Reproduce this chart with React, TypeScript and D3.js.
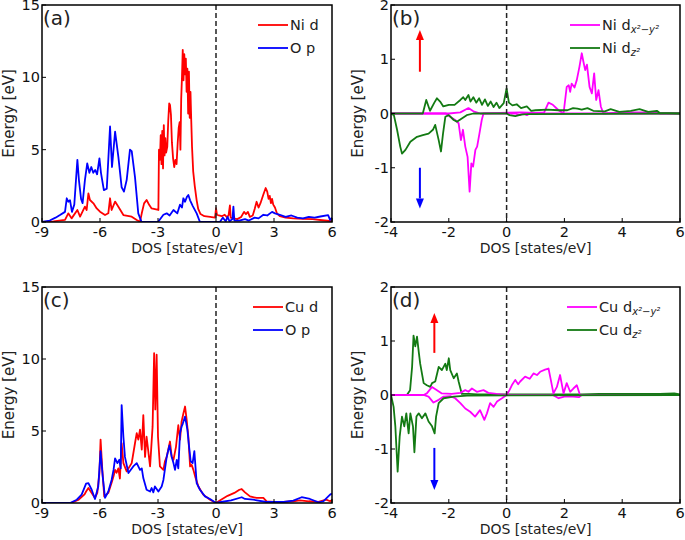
import React from 'react';
import * as d3 from 'd3';

type P = [number, number];

const FONT = "'DejaVu Sans', sans-serif";

// ---------- Panel (a): Ni d / O p ----------
const niD_a: P[] = [
  [-9, 0], [-8.41, 0.05], [-7.81, 0.14], [-7.64, 0.6], [-7.47, 0.25], [-7.17, 0.83], [-7.03, 0.37],
  [-6.78, 1.06], [-6.69, 0.83], [-6.6, 1.98], [-6.52, 1.52], [-6.34, 1.29], [-6.17, 0.94], [-6.0, 0.71],
  [-5.74, 0.48], [-5.57, 0.6], [-5.48, 1.64], [-5.4, 0.83], [-5.22, 1.41], [-5.05, 1.06], [-4.79, 0.48],
  [-4.36, 0.37], [-4.1, 0.14], [-3.93, 0.02], [-3.84, 0.6], [-3.72, 1.29], [-3.59, 1.52], [-3.45, 1.17],
  [-3.33, 0.94], [-2.98, 0.83], [-2.95, 5.0], [-2.9, 4.3], [-2.86, 6.0], [-2.82, 4.0], [-2.78, 6.3],
  [-2.74, 3.7], [-2.7, 6.7], [-2.66, 4.6], [-2.62, 5.8], [-2.58, 4.8], [-2.52, 5.2], [-2.47, 7.0],
  [-2.42, 8.2], [-2.38, 8.1], [-2.33, 7.4], [-2.28, 5.5], [-2.22, 4.4], [-2.16, 3.8], [-2.1, 4.3],
  [-2.04, 4.0], [-1.98, 5.5], [-1.93, 6.5], [-1.88, 6.9], [-1.84, 5.0], [-1.8, 8.5], [-1.76, 10.0],
  [-1.72, 11.9], [-1.68, 9.8], [-1.64, 11.6], [-1.6, 10.2], [-1.56, 11.3], [-1.52, 9.0], [-1.48, 10.6],
  [-1.44, 7.5], [-1.4, 10.4], [-1.36, 7.2], [-1.32, 9.0], [-1.28, 7.0], [-1.24, 5.2], [-1.18, 3.5],
  [-1.1, 2.5], [-1.0, 1.5], [-0.92, 0.9], [-0.8, 0.55], [-0.6, 0.4], [-0.3, 0.35], [-0.05, 0.3],
  [0.0, 0.95], [0.05, 0.5], [0.15, 0.45], [0.3, 0.4], [0.45, 0.5], [0.55, 0.35], [0.65, 0.45],
  [0.72, 1.15], [0.76, 0.3], [0.9, 0.25], [1.1, 0.2], [1.3, 0.35], [1.45, 0.7], [1.55, 0.55],
  [1.65, 0.7], [1.75, 0.35], [1.9, 0.45], [2.0, 0.9], [2.1, 1.4], [2.2, 1.0], [2.3, 1.3], [2.45, 1.9],
  [2.57, 2.35], [2.65, 2.1], [2.72, 1.6], [2.78, 1.8], [2.84, 1.3], [2.9, 1.6], [2.96, 1.2], [3.05, 1.0],
  [3.15, 0.6], [3.3, 0.4], [3.6, 0.3], [4.0, 0.25], [4.5, 0.22], [5.0, 0.2], [5.5, 0.12], [6.0, 0.05],
];

const oP_a: P[] = [
  [-9, 0], [-8.6, 0.1], [-8.3, 0.3], [-8.07, 0.48], [-7.81, 0.7], [-7.72, 1.64], [-7.64, 1.4],
  [-7.55, 1.5], [-7.45, 0.7], [-7.33, 1.2], [-7.17, 4.3], [-7.09, 2.9], [-6.98, 1.6], [-6.9, 1.3],
  [-6.78, 2.9], [-6.66, 4.05], [-6.55, 3.4], [-6.45, 3.8], [-6.35, 3.4], [-6.25, 3.6], [-6.15, 3.3],
  [-6.03, 4.4], [-5.95, 3.4], [-5.8, 2.2], [-5.65, 2.3], [-5.48, 6.6], [-5.38, 3.8], [-5.22, 6.24],
  [-5.05, 4.5], [-4.88, 2.4], [-4.76, 2.1], [-4.62, 2.9], [-4.45, 5.0], [-4.36, 4.9], [-4.19, 3.1],
  [-4.02, 0.6], [-3.85, 0], [-3.0, 0], [-2.72, 0.5], [-2.55, 0.6], [-2.4, 0.45], [-2.2, 0.83],
  [-2.0, 0.6], [-1.86, 1.2], [-1.76, 1.0], [-1.69, 1.64], [-1.6, 1.4], [-1.5, 1.75], [-1.43, 1.87],
  [-1.34, 1.5], [-1.2, 1.1], [-1.0, 0.6], [-0.83, 0], [0.2, 0], [0.35, 0.3], [0.5, 0.05], [0.6, 0.35],
  [0.7, 0.05], [0.85, 0.2], [0.9, 1.06], [0.95, 0.1], [1.2, 0.1], [1.5, 0.2], [1.7, 0.1], [2.0, 0.3],
  [2.2, 0.25], [2.45, 0.5], [2.65, 0.45], [2.9, 0.7], [3.05, 0.6], [3.3, 0.5], [3.6, 0.35], [3.9, 0.45],
  [4.2, 0.3], [4.5, 0.25], [4.8, 0.35], [5.1, 0.3], [5.4, 0.38], [5.8, 0.48], [5.9, 0.15], [6.0, 0.3],
];

// ---------- Panel (b): Ni dx2-y2 / Ni dz2 (spin up +, spin down -) ----------
const niDz2Up_b: P[] = [
  [-4, 0], [-2.9, 0], [-2.78, 0.25], [-2.65, 0.05], [-2.5, 0.2], [-2.41, 0.28], [-2.3, 0.22],
  [-2.19, 0.13], [-2.0, 0.16], [-1.8, 0.16], [-1.6, 0.25], [-1.5, 0.3], [-1.43, 0.25], [-1.32, 0.34],
  [-1.25, 0.22], [-1.15, 0.3], [-1.05, 0.2], [-0.95, 0.28], [-0.85, 0.16], [-0.75, 0.26], [-0.65, 0.14],
  [-0.55, 0.22], [-0.45, 0.12], [-0.35, 0.2], [-0.25, 0.1], [-0.1, 0.19], [0.0, 0.46], [0.08, 0.2],
  [0.2, 0.15], [0.35, 0.17], [0.5, 0.1], [0.7, 0.13], [0.85, 0.05], [1.0, 0.06], [1.4, 0.07],
  [1.8, 0.06], [2.1, 0.06], [2.3, 0.1], [2.45, 0.09], [2.6, 0.07], [2.8, 0.1], [3.0, 0.05], [3.4, 0.04],
  [3.6, 0.08], [3.9, 0.03], [4.3, 0.05], [4.6, 0.08], [4.9, 0.03], [5.2, 0.05], [5.3, 0.01], [6.0, 0],
];
const niDz2Dn_b: P[] = [
  [-4, 0], [-3.9, -0.03], [-3.79, -0.3], [-3.68, -0.61], [-3.62, -0.74], [-3.5, -0.67], [-3.33, -0.52],
  [-3.1, -0.43], [-2.9, -0.4], [-2.7, -0.37], [-2.55, -0.3], [-2.47, -0.21], [-2.35, -0.49],
  [-2.27, -0.7], [-2.2, -0.37], [-2.12, -0.06], [-2.0, -0.03], [-1.83, -0.12], [-1.72, -0.15],
  [-1.55, -0.09], [-1.38, -0.03], [-1.15, 0], [0.0, 0], [0.1, -0.03], [0.3, -0.05], [0.5, -0.02],
  [0.7, -0.01], [6.0, 0],
];
const niDx2Up_b: P[] = [
  [-4, 0], [-2.0, 0], [-1.6, 0.02], [-1.32, 0.1], [-1.15, 0.04], [-0.9, 0], [0.5, 0.02], [1.0, 0.01],
  [1.3, 0.02], [1.45, 0.2], [1.6, 0.16], [1.8, 0.06], [1.97, 0], [2.08, 0.49], [2.15, 0.52], [2.2, 0.4],
  [2.25, 0.55], [2.35, 0.48], [2.43, 0.62], [2.52, 0.86], [2.6, 1.11], [2.66, 0.95], [2.72, 0.8],
  [2.78, 0.9], [2.87, 0.49], [2.95, 0.37], [3.03, 0.74], [3.1, 0.25], [3.18, 0.43], [3.26, 0.13],
  [3.35, 0], [4.0, 0.02], [5.2, 0.02], [5.3, 0], [6, 0],
];
const niDx2Dn_b: P[] = [
  [-4, 0], [-2.1, 0], [-1.95, -0.06], [-1.78, -0.12], [-1.66, -0.18], [-1.58, -0.49], [-1.51, -0.3],
  [-1.43, -0.61], [-1.35, -0.8], [-1.28, -1.44], [-1.22, -0.92], [-1.16, -0.98], [-1.08, -0.67],
  [-1.02, -0.61], [-0.94, -0.37], [-0.86, -0.12], [-0.8, 0], [0.3, 0], [0.45, -0.03], [0.6, 0],
  [0.7, -0.03], [0.8, 0], [6, 0],
];

// ---------- Panel (c): Cu d / O p ----------
const cuD_c: P[] = [
  [-9, 0], [-7.5, 0], [-7.1, 0.23], [-6.8, 0.6], [-6.72, 0.8], [-6.6, 1.04], [-6.43, 0.7], [-6.26, 0.35],
  [-6.14, 0.7], [-6.03, 2.08], [-5.97, 4.4], [-5.88, 2.3], [-5.78, 0.46], [-5.57, 0.7], [-5.4, 1.4],
  [-5.3, 1.85], [-5.22, 2.3], [-5.14, 2.1], [-5.05, 2.4], [-4.97, 1.7], [-4.88, 4.15], [-4.79, 2.77],
  [-4.62, 2.2], [-4.36, 2.77], [-4.19, 4.15], [-4.1, 4.85], [-4.02, 4.4], [-3.93, 5.1], [-3.84, 3.7],
  [-3.76, 6.1], [-3.67, 3.2], [-3.59, 4.6], [-3.41, 2.54], [-3.28, 5.3], [-3.2, 10.4], [-3.14, 6.5],
  [-3.07, 10.3], [-3.0, 4.6], [-2.9, 2.54], [-2.72, 2.3], [-2.64, 2.9], [-2.55, 3.2], [-2.38, 4.27],
  [-2.29, 3.2], [-2.2, 3.0], [-2.07, 3.9], [-1.95, 5.4], [-1.86, 4.4], [-1.78, 5.65], [-1.69, 6.2],
  [-1.6, 6.7], [-1.52, 5.8], [-1.43, 4.6], [-1.34, 2.54], [-1.26, 2.65], [-1.17, 2.3], [-1.08, 1.85],
  [-0.91, 1.15], [-0.66, 0.58], [-0.31, 0.23], [0, 0], [0.26, 0.23], [0.6, 0.5], [0.95, 0.7],
  [1.21, 0.92], [1.33, 0.97], [1.5, 0.74], [1.76, 0.46], [2.1, 0.35], [2.45, 0.35], [2.62, 0.12],
  [3.0, 0.07], [3.5, 0.08], [4.0, 0.12], [4.34, 0.18], [4.8, 0.12], [5.3, 0.08], [5.7, 0.23],
  [5.9, 0.12], [6.0, 0.2],
];
const oP_c: P[] = [
  [-9, 0], [-7.55, 0], [-7.2, 0.23], [-6.95, 0.58], [-6.72, 1.34], [-6.6, 1.38], [-6.43, 0.92],
  [-6.26, 0.28], [-6.09, 1.15], [-5.97, 3.6], [-5.86, 1.85], [-5.74, 0.35], [-5.57, 0.8], [-5.4, 1.6],
  [-5.3, 2.3], [-5.22, 3.1], [-5.1, 2.77], [-5.0, 3.0], [-4.93, 2.4], [-4.88, 6.8], [-4.79, 4.6],
  [-4.71, 3.2], [-4.53, 2.08], [-4.28, 2.54], [-4.1, 2.77], [-3.93, 2.3], [-3.84, 2.4], [-3.76, 1.73],
  [-3.59, 0.92], [-3.41, 0.8], [-3.33, 1.04], [-3.24, 0.74], [-3.16, 1.15], [-2.98, 0.8], [-2.81, 1.15],
  [-2.72, 1.6], [-2.55, 3.2], [-2.41, 4.0], [-2.29, 3.2], [-2.2, 2.77], [-2.12, 2.3], [-2.03, 3.0],
  [-1.95, 2.4], [-1.86, 4.85], [-1.78, 5.3], [-1.72, 5.5], [-1.6, 6.0], [-1.48, 5.1], [-1.4, 4.0],
  [-1.31, 2.9], [-1.21, 2.77], [-1.12, 3.6], [-1.0, 1.38], [-0.83, 0.92], [-0.57, 0.46], [-0.31, 0.28],
  [0, 0], [0.26, 0.07], [0.78, 0.18], [1.33, 0.4], [1.5, 0.28], [1.93, 0.23], [2.6, 0.07], [3.5, 0.07],
  [4.0, 0.16], [4.43, 0.4], [4.86, 0.28], [5.3, 0.05], [5.55, 0.12], [5.9, 0.58], [6.0, 0.65],
];

// ---------- Panel (d): Cu dx2-y2 / Cu dz2 ----------
const cuDz2Up_d: P[] = [
  [-4, 0], [-3.45, 0], [-3.34, 0.09], [-3.27, 0.52], [-3.22, 1.1], [-3.16, 0.9], [-3.1, 1.08],
  [-3.04, 0.8], [-2.99, 0.58], [-2.87, 0.22], [-2.76, 0.18], [-2.64, 0.15], [-2.58, 0.22], [-2.47, 0.25],
  [-2.35, 0.52], [-2.24, 0.46], [-2.12, 0.58], [-2.07, 0.46], [-2.0, 0.68], [-1.95, 0.46], [-1.83, 0.31],
  [-1.72, 0.4], [-1.66, 0.25], [-1.55, 0.02], [-1.3, 0.02], [-1.0, 0.01], [2.6, 0.01], [3.2, 0.02],
  [4.0, 0.02], [5.3, 0.02], [5.8, 0.03], [6, 0.01],
];
const cuDz2Dn_d: P[] = [
  [-4, 0], [-3.91, -0.22], [-3.85, -0.58], [-3.77, -1.42], [-3.7, -0.77], [-3.62, -0.4], [-3.54, -0.58],
  [-3.47, -0.34], [-3.39, -0.71], [-3.33, -0.34], [-3.24, -0.58], [-3.19, -1.06], [-3.12, -0.4],
  [-3.04, -0.34], [-2.93, -0.43], [-2.81, -0.34], [-2.7, -0.49], [-2.58, -0.58], [-2.49, -0.71],
  [-2.44, -0.4], [-2.35, -0.15], [-2.18, -0.06], [-1.83, -0.03], [-1.37, -0.01], [6, 0],
];
const cuDx2Up_d: P[] = [
  [-4, 0], [-2.87, 0], [-2.76, 0.03], [-2.58, 0.15], [-2.41, 0.09], [-2.24, 0.03], [-1.9, 0.02],
  [-1.6, 0.04], [-1.43, 0.09], [-1.32, 0.06], [-1.2, 0.12], [-1.03, 0.06], [-0.8, 0.09], [-0.63, 0.04],
  [-0.35, 0.02], [0, 0], [0.1, 0.09], [0.18, 0.18], [0.3, 0.28], [0.4, 0.2], [0.47, 0.25], [0.64, 0.34],
  [0.8, 0.3], [0.93, 0.4], [1.05, 0.37], [1.16, 0.43], [1.33, 0.47], [1.45, 0.49], [1.53, 0.28],
  [1.62, 0.03], [1.74, 0.15], [1.85, 0.37], [1.97, 0.03], [2.08, 0.22], [2.2, 0.06], [2.31, 0.12],
  [2.43, 0.18], [2.54, 0], [6, 0],
];
const cuDx2Dn_d: P[] = [
  [-4, 0], [-2.87, 0], [-2.7, -0.03], [-2.53, -0.14], [-2.35, -0.09], [-2.18, -0.03], [-1.95, -0.02],
  [-1.78, -0.06], [-1.6, -0.15], [-1.43, -0.25], [-1.26, -0.31], [-1.09, -0.4], [-0.92, -0.28],
  [-0.77, -0.46], [-0.68, -0.34], [-0.57, -0.15], [-0.45, -0.22], [-0.33, -0.12], [-0.16, -0.06],
  [0, 0], [1.6, 0], [1.8, -0.06], [2.0, -0.03], [2.3, -0.03], [2.5, -0.04], [2.6, 0], [6, 0],
];

// ---------- ticks ----------
const xTicksLeft = [-9, -6, -3, 0, 3, 6];
const yTicksLeft = [0, 5, 10, 15];
const xTicksRight = [-4, -2, 0, 2, 4, 6];
const yTicksRight = [-2, -1, 0, 1, 2];

const RED = '#ff0000';
const BLUE = '#0000ff';
const MAGENTA = '#ff00ff';
const GREEN = '#137a13';

interface Series { data: P[]; color: string }
interface LegendItem { color: string; main: string; sub?: string }
interface Arrow { x: number; y0: number; y1: number; color: string }
interface Spec {
  id: string; left: number; top: number; width: number; height: number;
  xDomain: [number, number]; yDomain: [number, number];
  xTicks: number[]; yTicks: number[];
  label: string; series: Series[]; legend: LegendItem[];
  legendX: number; legendY: number; arrows: Arrow[];
}

const panels: Spec[] = [
  {
    id: 'a', left: 42, top: 5, width: 290, height: 217, xDomain: [-9, 6], yDomain: [0, 15],
    xTicks: xTicksLeft, yTicks: yTicksLeft, label: '(a)',
    series: [{ data: niD_a, color: RED }, { data: oP_a, color: BLUE }],
    legend: [{ color: RED, main: 'Ni d' }, { color: BLUE, main: 'O p' }],
    legendX: 258, legendY: 25, arrows: [],
  },
  {
    id: 'b', left: 391, top: 5, width: 289, height: 217, xDomain: [-4, 6], yDomain: [-2, 2],
    xTicks: xTicksRight, yTicks: yTicksRight, label: '(b)',
    series: [
      { data: niDx2Up_b, color: MAGENTA }, { data: niDx2Dn_b, color: MAGENTA },
      { data: niDz2Up_b, color: GREEN }, { data: niDz2Dn_b, color: GREEN },
    ],
    legend: [{ color: MAGENTA, main: 'Ni d', sub: 'x²−y²' }, { color: GREEN, main: 'Ni d', sub: 'z²' }],
    legendX: 570, legendY: 25,
    arrows: [{ x: -3, y0: 0.77, y1: 1.54, color: RED }, { x: -3, y0: -1.0, y1: -1.75, color: BLUE }],
  },
  {
    id: 'c', left: 42, top: 287, width: 290, height: 216, xDomain: [-9, 6], yDomain: [0, 15],
    xTicks: xTicksLeft, yTicks: yTicksLeft, label: '(c)',
    series: [{ data: cuD_c, color: RED }, { data: oP_c, color: BLUE }],
    legend: [{ color: RED, main: 'Cu d' }, { color: BLUE, main: 'O p' }],
    legendX: 253, legendY: 307, arrows: [],
  },
  {
    id: 'd', left: 391, top: 287, width: 289, height: 216, xDomain: [-4, 6], yDomain: [-2, 2],
    xTicks: xTicksRight, yTicks: yTicksRight, label: '(d)',
    series: [
      { data: cuDz2Up_d, color: GREEN },
      { data: cuDx2Up_d, color: MAGENTA }, { data: cuDx2Dn_d, color: MAGENTA },
      { data: cuDz2Dn_d, color: GREEN },
    ],
    legend: [{ color: MAGENTA, main: 'Cu d', sub: 'x²−y²' }, { color: GREEN, main: 'Cu d', sub: 'z²' }],
    legendX: 567, legendY: 307,
    arrows: [{ x: -2.5, y0: 0.78, y1: 1.52, color: RED }, { x: -2.5, y0: -0.98, y1: -1.76, color: BLUE }],
  },
];

function fmt(v: number) {
  return v < 0 ? `-${Math.abs(v)}` : `${v}`;
}

function Panel({ s }: { s: Spec }) {
  const x = d3.scaleLinear().domain(s.xDomain).range([s.left, s.left + s.width]);
  const y = d3.scaleLinear().domain(s.yDomain).range([s.top + s.height, s.top]);
  const line = d3.line<P>().x(d => x(d[0])).y(d => y(d[1]));
  const bottom = s.top + s.height;
  const clipId = `clip-${s.id}`;
  const midY = s.top + s.height / 2;
  return (
    <g>
      <defs>
        <clipPath id={clipId}>
          <rect x={s.left} y={s.top} width={s.width} height={s.height} />
        </clipPath>
      </defs>
      <g clipPath={`url(#${clipId})`}>
        {s.series.map((ser, i) => (
          <path key={i} d={line(ser.data) || ''} fill="none" stroke={ser.color} strokeWidth={1.8}
            strokeLinejoin="round" />
        ))}
        <line x1={x(0)} x2={x(0)} y1={s.top} y2={bottom} stroke="#222" strokeWidth={1.5}
          strokeDasharray="5,3" />
      </g>
      {s.arrows.map((a, i) => {
        const xa = x(a.x);
        const ya0 = y(a.y0);
        const ya1 = y(a.y1);
        const dir = ya1 < ya0 ? -1 : 1;
        const headLen = 10;
        const yb = ya1 - dir * headLen;
        return (
          <g key={i}>
            <line x1={xa} x2={xa} y1={ya0} y2={yb} stroke={a.color} strokeWidth={2} />
            <polygon points={`${xa - 4},${yb} ${xa + 4},${yb} ${xa},${ya1}`} fill={a.color} />
          </g>
        );
      })}
      {s.xTicks.map(t => (
        <g key={`xt${t}`}>
          <line x1={x(t)} x2={x(t)} y1={bottom} y2={bottom - 4} stroke="#000" strokeWidth={1} />
          <text x={x(t)} y={bottom + 15} textAnchor="middle" fontSize={14.5} fontFamily={FONT} fill="#111">{fmt(t)}</text>
        </g>
      ))}
      {s.yTicks.map(t => (
        <g key={`yt${t}`}>
          <line x1={s.left} x2={s.left + 4} y1={y(t)} y2={y(t)} stroke="#000" strokeWidth={1} />
          <text x={s.left - 2} y={y(t) + 5} textAnchor="end" fontSize={14.5} fontFamily={FONT} fill="#111">{fmt(t)}</text>
        </g>
      ))}
      <rect x={s.left} y={s.top} width={s.width} height={s.height} fill="none" stroke="#000" strokeWidth={1.5} />
      <text x={s.left + s.width / 2} y={bottom + 31} textAnchor="middle" fontSize={14} fontFamily={FONT}
        fill="#222">DOS [states/eV]</text>
      <text transform={`translate(${s.left - 28},${midY}) rotate(-90)`} textAnchor="middle" fontSize={15}
        fontFamily={FONT} fill="#222">Energy [eV]</text>
      <text x={s.left + 1} y={s.top + 20} fontSize={20} fontFamily={FONT} fill="#222">{s.label}</text>
      {s.legend.map((l, i) => {
        const ly = s.legendY + i * 23;
        return (
          <g key={`lg${i}`}>
            <line x1={s.legendX} x2={s.legendX + 30} y1={ly} y2={ly} stroke={l.color} strokeWidth={1.8} />
            <text x={s.legendX + 32} y={ly + 5} fontSize={14.5} fontFamily={FONT} fill="#222">
              {l.main}
              {l.sub ? (
                <tspan fontSize={10} dy={3} fontStyle="italic">{l.sub}</tspan>
              ) : null}
            </text>
          </g>
        );
      })}
    </g>
  );
}

export default function App() {
  return (
    <svg width={685} height={540} viewBox="0 0 685 540"
      style={{ position: 'absolute', left: 0, top: 0, background: '#fff' }}>
      <rect x={0} y={0} width={685} height={540} fill="#fff" />
      {panels.map(p => <Panel key={p.id} s={p} />)}
    </svg>
  );
}
